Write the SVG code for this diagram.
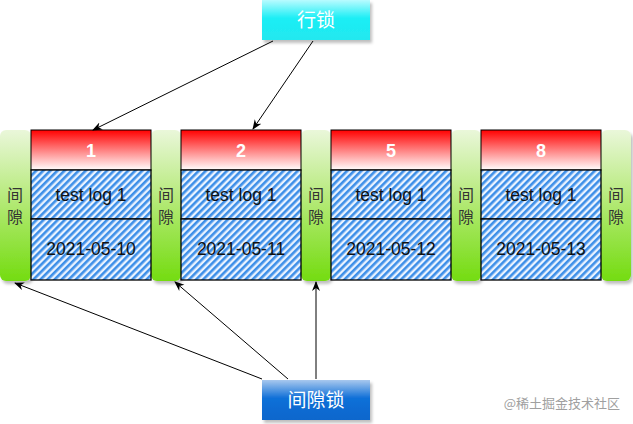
<svg xmlns="http://www.w3.org/2000/svg" width="633" height="424" viewBox="0 0 633 424">
<defs>
<linearGradient id="gGreen" x1="0" y1="0" x2="0" y2="1">
<stop offset="0" stop-color="#eaf7da"/>
<stop offset="0.45" stop-color="#b6ea7a"/>
<stop offset="1" stop-color="#74dc10"/>
</linearGradient>
<linearGradient id="gRed" x1="0" y1="0" x2="0" y2="1">
<stop offset="0" stop-color="#ff0000"/>
<stop offset="1" stop-color="#ffffff"/>
</linearGradient>
<linearGradient id="gCyan" x1="0" y1="0" x2="0" y2="1">
<stop offset="0" stop-color="#b8fbff"/>
<stop offset="0.45" stop-color="#1ceef5"/>
<stop offset="1" stop-color="#22e8ef"/>
</linearGradient>
<linearGradient id="gBlue" x1="0" y1="0" x2="0" y2="1">
<stop offset="0" stop-color="#a8c8ee"/>
<stop offset="0.45" stop-color="#1070d8"/>
<stop offset="1" stop-color="#0a66cc"/>
</linearGradient>
<pattern id="hatch" width="5" height="5" patternUnits="userSpaceOnUse" patternTransform="rotate(45)">
<rect width="5" height="5" fill="#eaf3ff"/>
<rect x="0" y="0" width="2.6" height="5" fill="#3d8fe8"/>
</pattern>
<marker id="arr" viewBox="0 0 10 10" refX="9" refY="5" markerWidth="10" markerHeight="10" markerUnits="userSpaceOnUse" orient="auto">
<path d="M0,1 L10,5 L0,9 L3,5 Z" fill="#000"/>
</marker>
<filter id="sh" x="-10%" y="-10%" width="130%" height="130%">
<feDropShadow dx="2" dy="3" stdDeviation="1.5" flood-color="#000" flood-opacity="0.25"/>
</filter>
</defs>
<style>
.gap{fill:url(#gGreen);filter:url(#sh)}
.hdr{fill:url(#gRed);stroke:#000;stroke-width:1}
.cell{fill:url(#hatch);stroke:#000;stroke-width:1.3}
.t{font-family:"Liberation Sans",Arial,sans-serif;font-size:17.5px;fill:#111;text-anchor:middle}
.n{font-family:"Liberation Sans",Arial,sans-serif;font-size:18px;font-weight:bold;fill:#fff;text-anchor:middle}
.g{font-family:"Noto Sans CJK SC",sans-serif;font-size:16px;fill:#333;text-anchor:middle}
.lk{font-family:"Noto Sans CJK SC",sans-serif;font-size:19px;fill:#fff;text-anchor:middle}
.c{stroke:#000;stroke-width:1;fill:none;marker-end:url(#arr)}
</style>
<g id="gap0"><rect class="gap" x="0" y="130" width="31" height="151" rx="6"/><text class="g" x="15" y="201">间</text><text class="g" x="15" y="223">隙</text></g>
<g id="gap1"><rect class="gap" x="151" y="130" width="30" height="151" rx="6"/><text class="g" x="166" y="201">间</text><text class="g" x="166" y="223">隙</text></g>
<g id="gap2"><rect class="gap" x="301" y="130" width="30" height="151" rx="6"/><text class="g" x="316" y="201">间</text><text class="g" x="316" y="223">隙</text></g>
<g id="gap3"><rect class="gap" x="451" y="130" width="30" height="151" rx="6"/><text class="g" x="466" y="201">间</text><text class="g" x="466" y="223">隙</text></g>
<g id="gap4"><rect class="gap" x="601" y="130" width="30" height="151" rx="6"/><text class="g" x="616" y="201">间</text><text class="g" x="616" y="223">隙</text></g>
<g id="rec1">
<rect class="hdr" x="31" y="130" width="120" height="40"/><text class="n" x="91" y="157">1</text>
<rect class="cell" x="31" y="170" width="120" height="49"/><text class="t" x="91" y="201">test log 1</text>
<rect class="cell" x="31" y="219" width="120" height="61"/><text class="t" x="91" y="255">2021-05-10</text>
</g>
<g id="rec2">
<rect class="hdr" x="181" y="130" width="120" height="40"/><text class="n" x="241" y="157">2</text>
<rect class="cell" x="181" y="170" width="120" height="49"/><text class="t" x="241" y="201">test log 1</text>
<rect class="cell" x="181" y="219" width="120" height="61"/><text class="t" x="241" y="255">2021-05-11</text>
</g>
<g id="rec5">
<rect class="hdr" x="331" y="130" width="120" height="40"/><text class="n" x="391" y="157">5</text>
<rect class="cell" x="331" y="170" width="120" height="49"/><text class="t" x="391" y="201">test log 1</text>
<rect class="cell" x="331" y="219" width="120" height="61"/><text class="t" x="391" y="255">2021-05-12</text>
</g>
<g id="rec8">
<rect class="hdr" x="481" y="130" width="120" height="40"/><text class="n" x="541" y="157">8</text>
<rect class="cell" x="481" y="170" width="120" height="49"/><text class="t" x="541" y="201">test log 1</text>
<rect class="cell" x="481" y="219" width="120" height="61"/><text class="t" x="541" y="255">2021-05-13</text>
</g>
<g id="rowlock"><rect x="262" y="0" width="108" height="40" fill="url(#gCyan)" filter="url(#sh)"/><text class="lk" x="316" y="27">行锁</text></g>
<g id="gaplock"><rect x="262" y="380" width="108" height="40" fill="url(#gBlue)" filter="url(#sh)"/><text class="lk" x="316" y="407">间隙锁</text></g>
<g id="connectors">
<path class="c" d="M273,41 L93,130"/>
<path class="c" d="M313,41 L253,129"/>
<path class="c" d="M262,379 L15,283"/>
<path class="c" d="M288,379 L175,282"/>
<path class="c" d="M316,379 L316,282"/>
</g>
<text x="620" y="408" font-family="Noto Sans CJK SC,sans-serif" font-size="13" fill="#a0a0a0" text-anchor="end">@稀土掘金技术社区</text>
</svg>
